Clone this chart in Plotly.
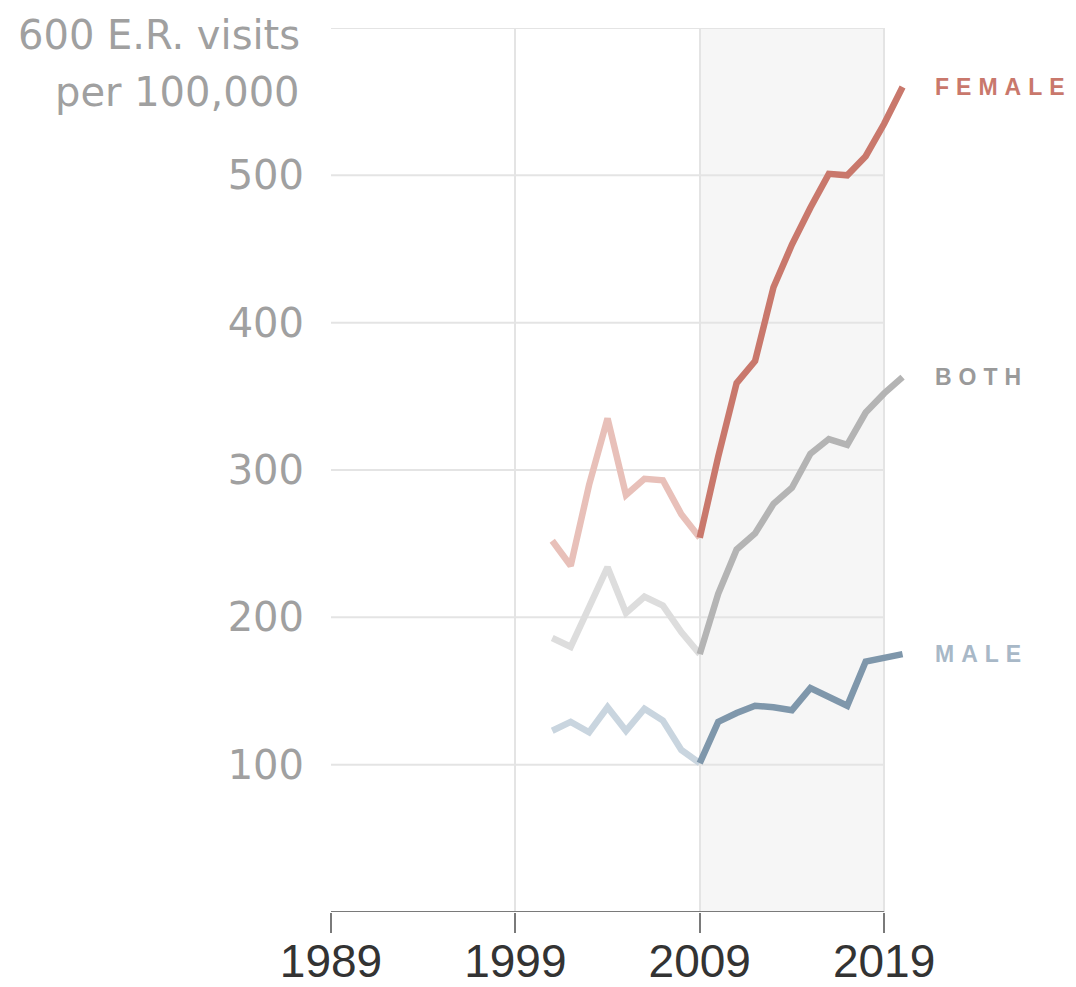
import plotly.graph_objects as go

# ---- data ----
years = list(range(2001, 2021))
female = [252, 235, 290, 335, 283, 294, 293, 270, 254, 309, 359, 374, 424, 453, 478, 501, 500, 513, 535, 560]
both = [186, 180, 207, 234, 203, 214, 208, 190, 175, 216, 246, 257, 277, 288, 311, 321, 317, 339, 352, 363]
male = [123, 129, 122, 139, 123, 138, 130, 110, 101, 129, 135, 140, 139, 137, 152, 146, 140, 170, 173, 175]

series_names = ["FEMALE", "BOTH", "MALE"]
strong_colors = ["#c9786c", "#b4b4b4", "#7f97ab"]
faded_colors = ["#e8c0b9", "#dddddd", "#c9d5df"]
label_colors = ["#c9786c", "#9a9a9a", "#a8b8c7"]

split_year = 2009
x_ticks = [1989, 1999, 2009, 2019]
y_ticks = [100, 200, 300, 400, 500]
y_top = 600
y_top_label = ["600 E.R. visits", "per 100,000"]
shade_range = [2009, 2019]

LABEL_SIZE = 23
LETTER_SP = 7

fig = go.Figure()

# background shading for recent decade
fig.add_shape(type="rect", xref="x", yref="y", x0=shade_range[0], x1=shade_range[1],
              y0=0, y1=y_top, fillcolor="#f6f6f6", line_width=0, layer="below")
# horizontal gridlines (end at last tick)
for v in y_ticks + [y_top]:
    fig.add_shape(type="line", xref="x", yref="y", x0=x_ticks[0], x1=x_ticks[-1], y0=v, y1=v,
                  line=dict(color="#e4e4e4", width=2), layer="below")
# x-axis baseline
fig.add_shape(type="line", xref="x", yref="y", x0=x_ticks[0], x1=x_ticks[-1], y0=0, y1=0,
              line=dict(color="#7a7a7a", width=2), layer="above")

split_idx = years.index(split_year)
for name, vals, sc, fc in zip(series_names, [female, both, male], strong_colors, faded_colors):
    fig.add_trace(go.Scatter(x=years[:split_idx + 1], y=vals[:split_idx + 1], mode="lines",
                             line=dict(color=fc, width=6.5), hoverinfo="skip", showlegend=False))
    fig.add_trace(go.Scatter(x=years[split_idx:], y=vals[split_idx:], mode="lines",
                             line=dict(color=sc, width=6.5), hoverinfo="skip", showlegend=False))

annotations = []
for name, vals, lc in zip(series_names, [female, both, male], label_colors):
    # compensate for letter-spacing added after layout (text is middle-anchored)
    comp = len(name) * LETTER_SP / 2
    annotations.append(dict(x=years[-1], y=vals[-1], xref="x", yref="y", text=name,
                            showarrow=False, xanchor="left", yanchor="middle", xshift=30 + comp,
                            font=dict(family="Liberation Sans", size=LABEL_SIZE, color=lc, weight="bold")))

annotations.append(dict(x=0, y=y_top, xref="paper", yref="y", text=y_top_label[0], showarrow=False,
                        xanchor="right", yanchor="middle", xshift=-29, yshift=-7,
                        font=dict(family="DejaVu Sans", size=40, color="#a0a0a0")))
annotations.append(dict(x=0, y=y_top, xref="paper", yref="y", text=y_top_label[1], showarrow=False,
                        xanchor="right", yanchor="middle", xshift=-29, yshift=-64,
                        font=dict(family="DejaVu Sans", size=40, color="#a0a0a0")))

fig.update_layout(
    width=1076, height=987,
    margin=dict(l=331, r=155, t=28, b=75),
    paper_bgcolor="white", plot_bgcolor="white",
    annotations=annotations,
    hovermode=False,
    xaxis=dict(range=[1989, 2021], tickvals=x_ticks, ticktext=[str(t) for t in x_ticks],
               showgrid=True, gridcolor="#e4e4e4", gridwidth=2, zeroline=False, showline=False,
               ticks="outside", ticklen=20, tickwidth=2, tickcolor="#7a7a7a", automargin=False,
               ticklabelstandoff=-11,
               tickfont=dict(family="Liberation Sans", size=46, color="#333333")),
    yaxis=dict(range=[0, y_top], tickvals=y_ticks, ticktext=[str(t) for t in y_ticks],
               showgrid=False, zeroline=False, showline=False, ticks="", automargin=False,
               ticklabelstandoff=26,
               tickfont=dict(family="DejaVu Sans", size=40, color="#a0a0a0")),
)

post = """
document.body.style.margin = '0';
var gd = document.getElementById('{plot_id}');
function ls(){
  gd.querySelectorAll('.annotation-text').forEach(function(t){
    if(['FEMALE','BOTH','MALE'].indexOf(t.textContent) >= 0){ t.style.letterSpacing = '%spx'; }
  });
}
ls();
gd.on('plotly_afterplot', ls);
""" % LETTER_SP

fig.write_html("out.html", config={"displayModeBar": False}, post_script=post)
